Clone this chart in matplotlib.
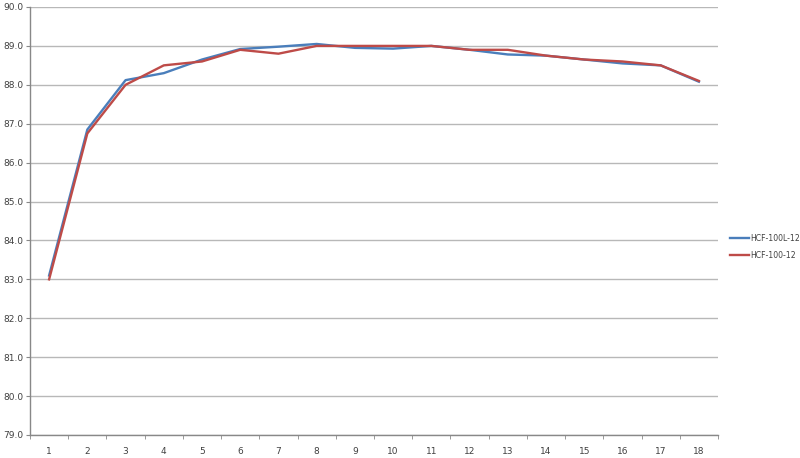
import matplotlib
matplotlib.use("Agg")
import matplotlib.pyplot as plt
import numpy as np

# data
categories = list(range(1, 19))
hcf_100l_12 = [83.1, 86.85, 88.12, 88.3, 88.65, 88.92, 88.98, 89.05, 88.95, 88.93,
               89.0, 88.9, 88.78, 88.75, 88.65, 88.55, 88.5, 88.08]
hcf_100_12 = [83.0, 86.75, 88.0, 88.5, 88.6, 88.9, 88.8, 89.0, 89.0, 89.0,
              89.0, 88.9, 88.9, 88.75, 88.65, 88.6, 88.5, 88.1]
y_ticks = np.arange(79.0, 90.01, 1.0)

fig = plt.figure(figsize=(8.0, 4.58), dpi=100)
ax = fig.add_axes([30 / 800, 23 / 458, 688 / 800, 428 / 458])

ax.plot(categories, hcf_100l_12, color='#4A7EBB', lw=1.7, label='HCF-100L-12', zorder=3)
ax.plot(categories, hcf_100_12, color='#BE4B48', lw=1.7, label='HCF-100-12', zorder=4)

ax.set_xlim(0.5, 18.5)
ax.set_ylim(79.0, 90.0)
ax.set_yticks(y_ticks)
ax.set_yticklabels([f"{v:.1f}" for v in y_ticks])
ax.set_xticks(categories)
ax.set_xticks(np.arange(0.5, 19, 1.0), minor=True)
ax.tick_params(axis='x', which='major', length=0, pad=9, labelsize=6.5, colors='#404040')
ax.tick_params(axis='x', which='minor', length=3, color='#888888', direction='out')
ax.tick_params(axis='y', length=3, color='#888888', labelsize=6.5, labelcolor='#404040', pad=2)

ax.grid(axis='y', color='#B8B8B8', lw=1.0)
ax.set_axisbelow(True)
for s in ['top', 'right']:
    ax.spines[s].set_visible(False)
for s in ['left', 'bottom']:
    ax.spines[s].set_color('#888888')
    ax.spines[s].set_linewidth(1.0)

leg = fig.legend(loc='center left', bbox_to_anchor=(730 / 800, 1 - 247 / 458),
                 frameon=False, fontsize=5.6, handlelength=2.4, handletextpad=0.25,
                 labelspacing=1.0, borderpad=0, borderaxespad=0)
for t in leg.get_texts():
    t.set_color('#404040')

fig.savefig('out.png', dpi=100)
